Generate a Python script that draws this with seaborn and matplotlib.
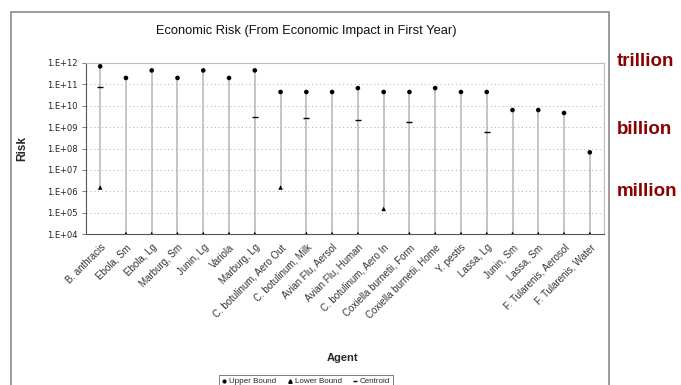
import numpy as np
import pandas as pd
import matplotlib
matplotlib.use("Agg")
import matplotlib.pyplot as plt
from matplotlib.patches import Rectangle
from matplotlib.lines import Line2D
from matplotlib.ticker import FixedLocator, NullLocator
import seaborn as sns

sns.set_style("white")
plt.rcParams['font.family'] = ['Liberation Sans', 'DejaVu Sans']

# values (log scale, lower 1e4 = sits on the axis floor)
agents = ["B. anthracis", "Ebola, Sm", "Ebola, Lg", "Marburg, Sm", "Junin, Lg",
          "Variola", "Marburg, Lg", "C. botulinum, Aero Out", "C. botulinum, Milk",
          "Avian Flu, Aersol", "Avian Flu, Human", "C. botulinum, Aero In",
          "Coxiella burnetii, Form", "Coxiella burnetii, Home", "Y. pestis",
          "Lassa, Lg", "Junin, Sm", "Lassa, Sm", "F. Tularenis, Aerosol",
          "F. Tularenis, Water"]
upper = [7e11, 2e11, 4.5e11, 2e11, 4.5e11, 2e11, 4.5e11, 4.4e10, 4.4e10, 4.4e10,
         6.7e10, 4.4e10, 4.4e10, 6.7e10, 4.4e10, 4.4e10, 6.3e9, 6.3e9, 4.6e9, 6.6e7]
lower = [1.5e6, 1e4, 1e4, 1e4, 1e4, 1e4, 1e4, 1.5e6, 1e4, 1e4,
         1e4, 1.5e5, 1e4, 1e4, 1e4, 1e4, 1e4, 1e4, 1e4, 1e4]
centroid = [7.5e10, np.nan, np.nan, np.nan, np.nan, np.nan, 3e9, np.nan, 2.6e9, np.nan,
            2.2e9, np.nan, 1.7e9, np.nan, np.nan, 5.9e8, np.nan, np.nan, np.nan, np.nan]
ytick_labels = ["1.E+04", "1.E+05", "1.E+06", "1.E+07", "1.E+08",
                "1.E+09", "1.E+10", "1.E+11", "1.E+12"]
side_labels = ["trillion", "billion", "million"]

df = pd.DataFrame({"agent": agents, "upper": upper, "lower": lower, "centroid": centroid})
df["pos"] = np.arange(len(df))

fig = plt.figure(figsize=(6.81, 3.85), dpi=100)
ax = fig.add_axes([86 / 681, 1 - 234 / 385, 518 / 681, 171 / 385])

ax.vlines(df["pos"], df["lower"], df["upper"], color="#b5b5b5", lw=1.1, zorder=1)
sns.scatterplot(data=df, x="pos", y="upper", marker="o", s=11, color="black",
                edgecolor="none", ax=ax, zorder=3)
sns.scatterplot(data=df, x="pos", y="lower", marker="^", s=11, color="black",
                edgecolor="none", ax=ax, zorder=3)
sns.scatterplot(data=df.dropna(subset=["centroid"]), x="pos", y="centroid", marker="_",
                s=16, color="black", linewidth=1.0, ax=ax, zorder=3)

ax.set_yscale("log")
ax.set_ylim(1e4, 1e12)
ax.set_xlim(-0.55, len(agents) - 0.45)
ax.yaxis.set_major_locator(FixedLocator([10.0 ** k for k in range(4, 13)]))
ax.yaxis.set_minor_locator(NullLocator())
ax.set_yticklabels(ytick_labels, fontsize=6, family="DejaVu Sans", color="#222222")
ax.tick_params(axis="y", length=3, width=0.6, color="#666666", pad=3, left=True)
ax.set_xticks(df["pos"])
ax.set_xticklabels(agents, rotation=45, ha="right", rotation_mode="anchor",
                   fontsize=7, color="#333333")
ax.tick_params(axis="x", length=0, pad=6)

ax.grid(axis="y", color="#a8a8a8", linestyle=(0, (1, 3)), lw=0.7)
ax.set_axisbelow(True)
for side in ["left", "bottom"]:
    ax.spines[side].set_color("#555555")
    ax.spines[side].set_linewidth(0.8)
for side in ["top", "right"]:
    ax.spines[side].set_color("#bdbdbd")
    ax.spines[side].set_linewidth(0.8)

ax.set_xlabel("Agent", fontsize=8, fontweight="bold", labelpad=4)
ax.set_ylabel("Risk", fontsize=8.5, fontweight="bold", labelpad=6)
ax.xaxis.set_label_coords(0.495, -(353 - 234) / 171)
ax.yaxis.set_label_coords(-(86 - 28) / 518, 0.5)

fig.text(306 / 681, 1 - 31 / 385, "Economic Risk (From Economic Impact in First Year)",
         ha="center", va="center", fontsize=9.3, color="#111111")

handles = [Line2D([], [], marker="o", color="black", ls="none", markersize=2),
           Line2D([], [], marker="^", color="black", ls="none", markersize=2.5),
           Line2D([], [], marker="_", color="black", ls="none", markersize=3)]
leg = fig.legend(handles, ["Upper Bound", "Lower Bound", "Centroid"], ncol=3,
                 loc="upper center", bbox_to_anchor=(306 / 681, 1 - 371 / 385),
                 fontsize=5.8, frameon=True, fancybox=False, handlelength=0.6,
                 handletextpad=0.3, columnspacing=1.4, borderpad=0.35)
leg.get_frame().set_edgecolor("#444444")
leg.get_frame().set_linewidth(0.6)

# chart frame of the embedded slide object
fig.add_artist(Rectangle((11 / 681, -0.05), (609 - 11) / 681, 1.05 - 12 / 385,
                         transform=fig.transFigure, fill=False,
                         edgecolor="#9a9a9a", lw=1.4))

for lab, ypix in zip(side_labels, [62, 129, 191]):
    fig.text(617 / 681, 1 - ypix / 385, lab, ha="left", va="center",
             fontsize=13.5, fontweight="bold", color="#8b0000")

fig.savefig("out.png", dpi=100)
